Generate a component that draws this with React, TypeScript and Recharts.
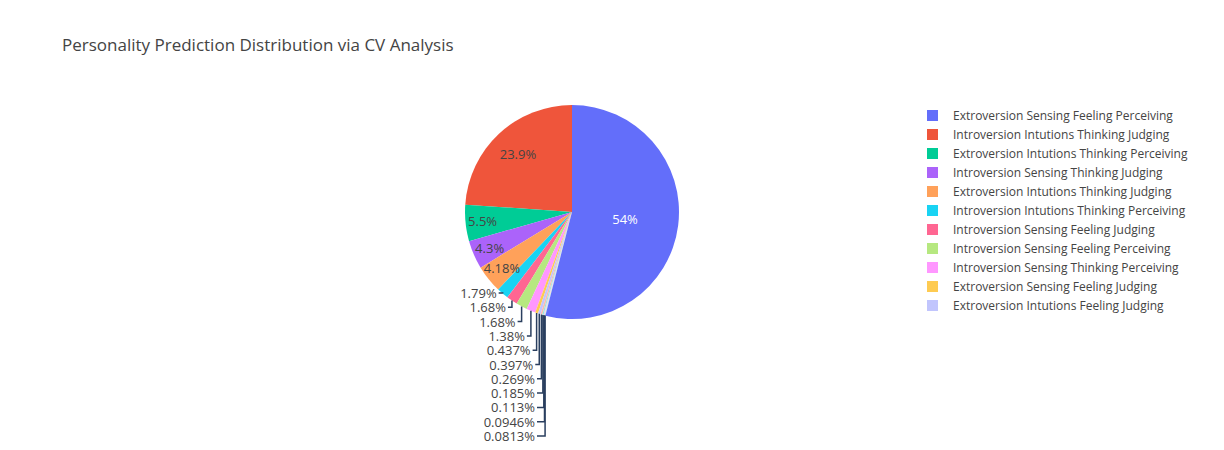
import { PieChart, Pie, Cell } from 'recharts';

const names = [
  'Extroversion Sensing Feeling Perceiving',
  'Introversion Intutions Thinking Judging',
  'Extroversion Intutions Thinking Perceiving',
  'Introversion Sensing Thinking Judging',
  'Extroversion Intutions Thinking Judging',
  'Introversion Intutions Thinking Perceiving',
  'Introversion Sensing Feeling Judging',
  'Introversion Sensing Feeling Perceiving',
  'Introversion Sensing Thinking Perceiving',
  'Extroversion Sensing Feeling Judging',
  'Extroversion Intutions Feeling Judging',
  'Extroversion Sensing Thinking Perceiving',
  'Extroversion Sensing Thinking Judging',
  'Extroversion Intutions Feeling Perceiving',
  'Introversion Intutions Feeling Judging',
  'Introversion Intutions Feeling Perceiving',
];
const shares = [54, 23.9, 5.5, 4.3, 4.18, 1.79, 1.68, 1.68, 1.38, 0.437, 0.397, 0.269, 0.185, 0.113, 0.0946, 0.0813];
const labels = ['54%', '23.9%', '5.5%', '4.3%', '4.18%', '1.79%', '1.68%', '1.68%', '1.38%', '0.437%', '0.397%', '0.269%', '0.185%', '0.113%', '0.0946%', '0.0813%'];
const colors = [
  '#636efa', '#ef553b', '#00cc96', '#ab63fa', '#ffa15a', '#19d3f3', '#ff6692', '#b6e880', '#ff97ff', '#fecb52',
  '#c1c5fd', '#f9bbb1', '#99ebd5', '#ddc1fd', '#ffd9bd', '#a3edf8',
];
const LEGEND_COUNT = 11;

// drawn counterclockwise from the top: second slice first, largest slice last
const all = names.map((name, i) => ({ name, value: shares[i], idx: i }));
const data = [...all.slice(1), all[0]];
const RAD = Math.PI / 180;

function renderLabel(props: any) {
  const { cx, cy, midAngle, outerRadius } = props;
  const index = props.payload?.idx ?? props.idx;
  const cos = Math.cos(-midAngle * RAD);
  const sin = Math.sin(-midAngle * RAD);
  if (index < 5) {
    const k = index === 0 ? 0.5 : index === 1 ? 0.74 : 0.84;
    const x = cx + outerRadius * k * cos;
    const y = cy + outerRadius * k * sin;
    return (
      <text x={x} y={y} fill={index === 0 ? '#fff' : '#444'} fontSize={13} textAnchor="middle" dominantBaseline="central">
        {labels[index]}
      </text>
    );
  }
  const px = cx + outerRadius * cos;
  const py = cy + outerRadius * sin;
  const ly = 293 + (index - 5) * 14.3;
  const lx = Math.min(px, 541);
  return (
    <g>
      <polyline points={`${px},${py} ${px},${ly} ${lx - 4},${ly}`} fill="none" stroke="#2a3f5f" strokeWidth={1.5} />
      <text x={lx - 6} y={ly} fill="#444" fontSize={13} textAnchor="end" dominantBaseline="central">
        {labels[index]}
      </text>
    </g>
  );
}

export default function App() {
  return (
    <div style={{ position: 'absolute', left: 0, top: 0, width: 1224, height: 450, background: '#fff', fontFamily: '"Open Sans", sans-serif' }}>
      <div style={{ position: 'absolute', left: 62, top: 33, fontSize: 17, color: '#444' }}>
        Personality Prediction Distribution via CV Analysis
      </div>
      <PieChart width={1224} height={450}>
        <Pie
          data={data}
          dataKey="value"
          nameKey="name"
          cx={567}
          cy={207}
          outerRadius={107}
          startAngle={90}
          endAngle={450}
          stroke="none"
          label={renderLabel}
          labelLine={false}
          isAnimationActive={false}
        >
          {data.map((d) => (
            <Cell key={d.idx} fill={colors[d.idx]} />
          ))}
        </Pie>
      </PieChart>
      <div style={{ position: 'absolute', left: 927, top: 106 }}>
        {names.slice(0, LEGEND_COUNT).map((n, i) => (
          <div key={n} style={{ display: 'flex', alignItems: 'center', height: 19, fontSize: 12, color: '#444' }}>
            <span style={{ width: 11, height: 11, background: colors[i], display: 'inline-block', marginRight: 15 }} />
            {n}
          </div>
        ))}
      </div>
    </div>
  );
}
